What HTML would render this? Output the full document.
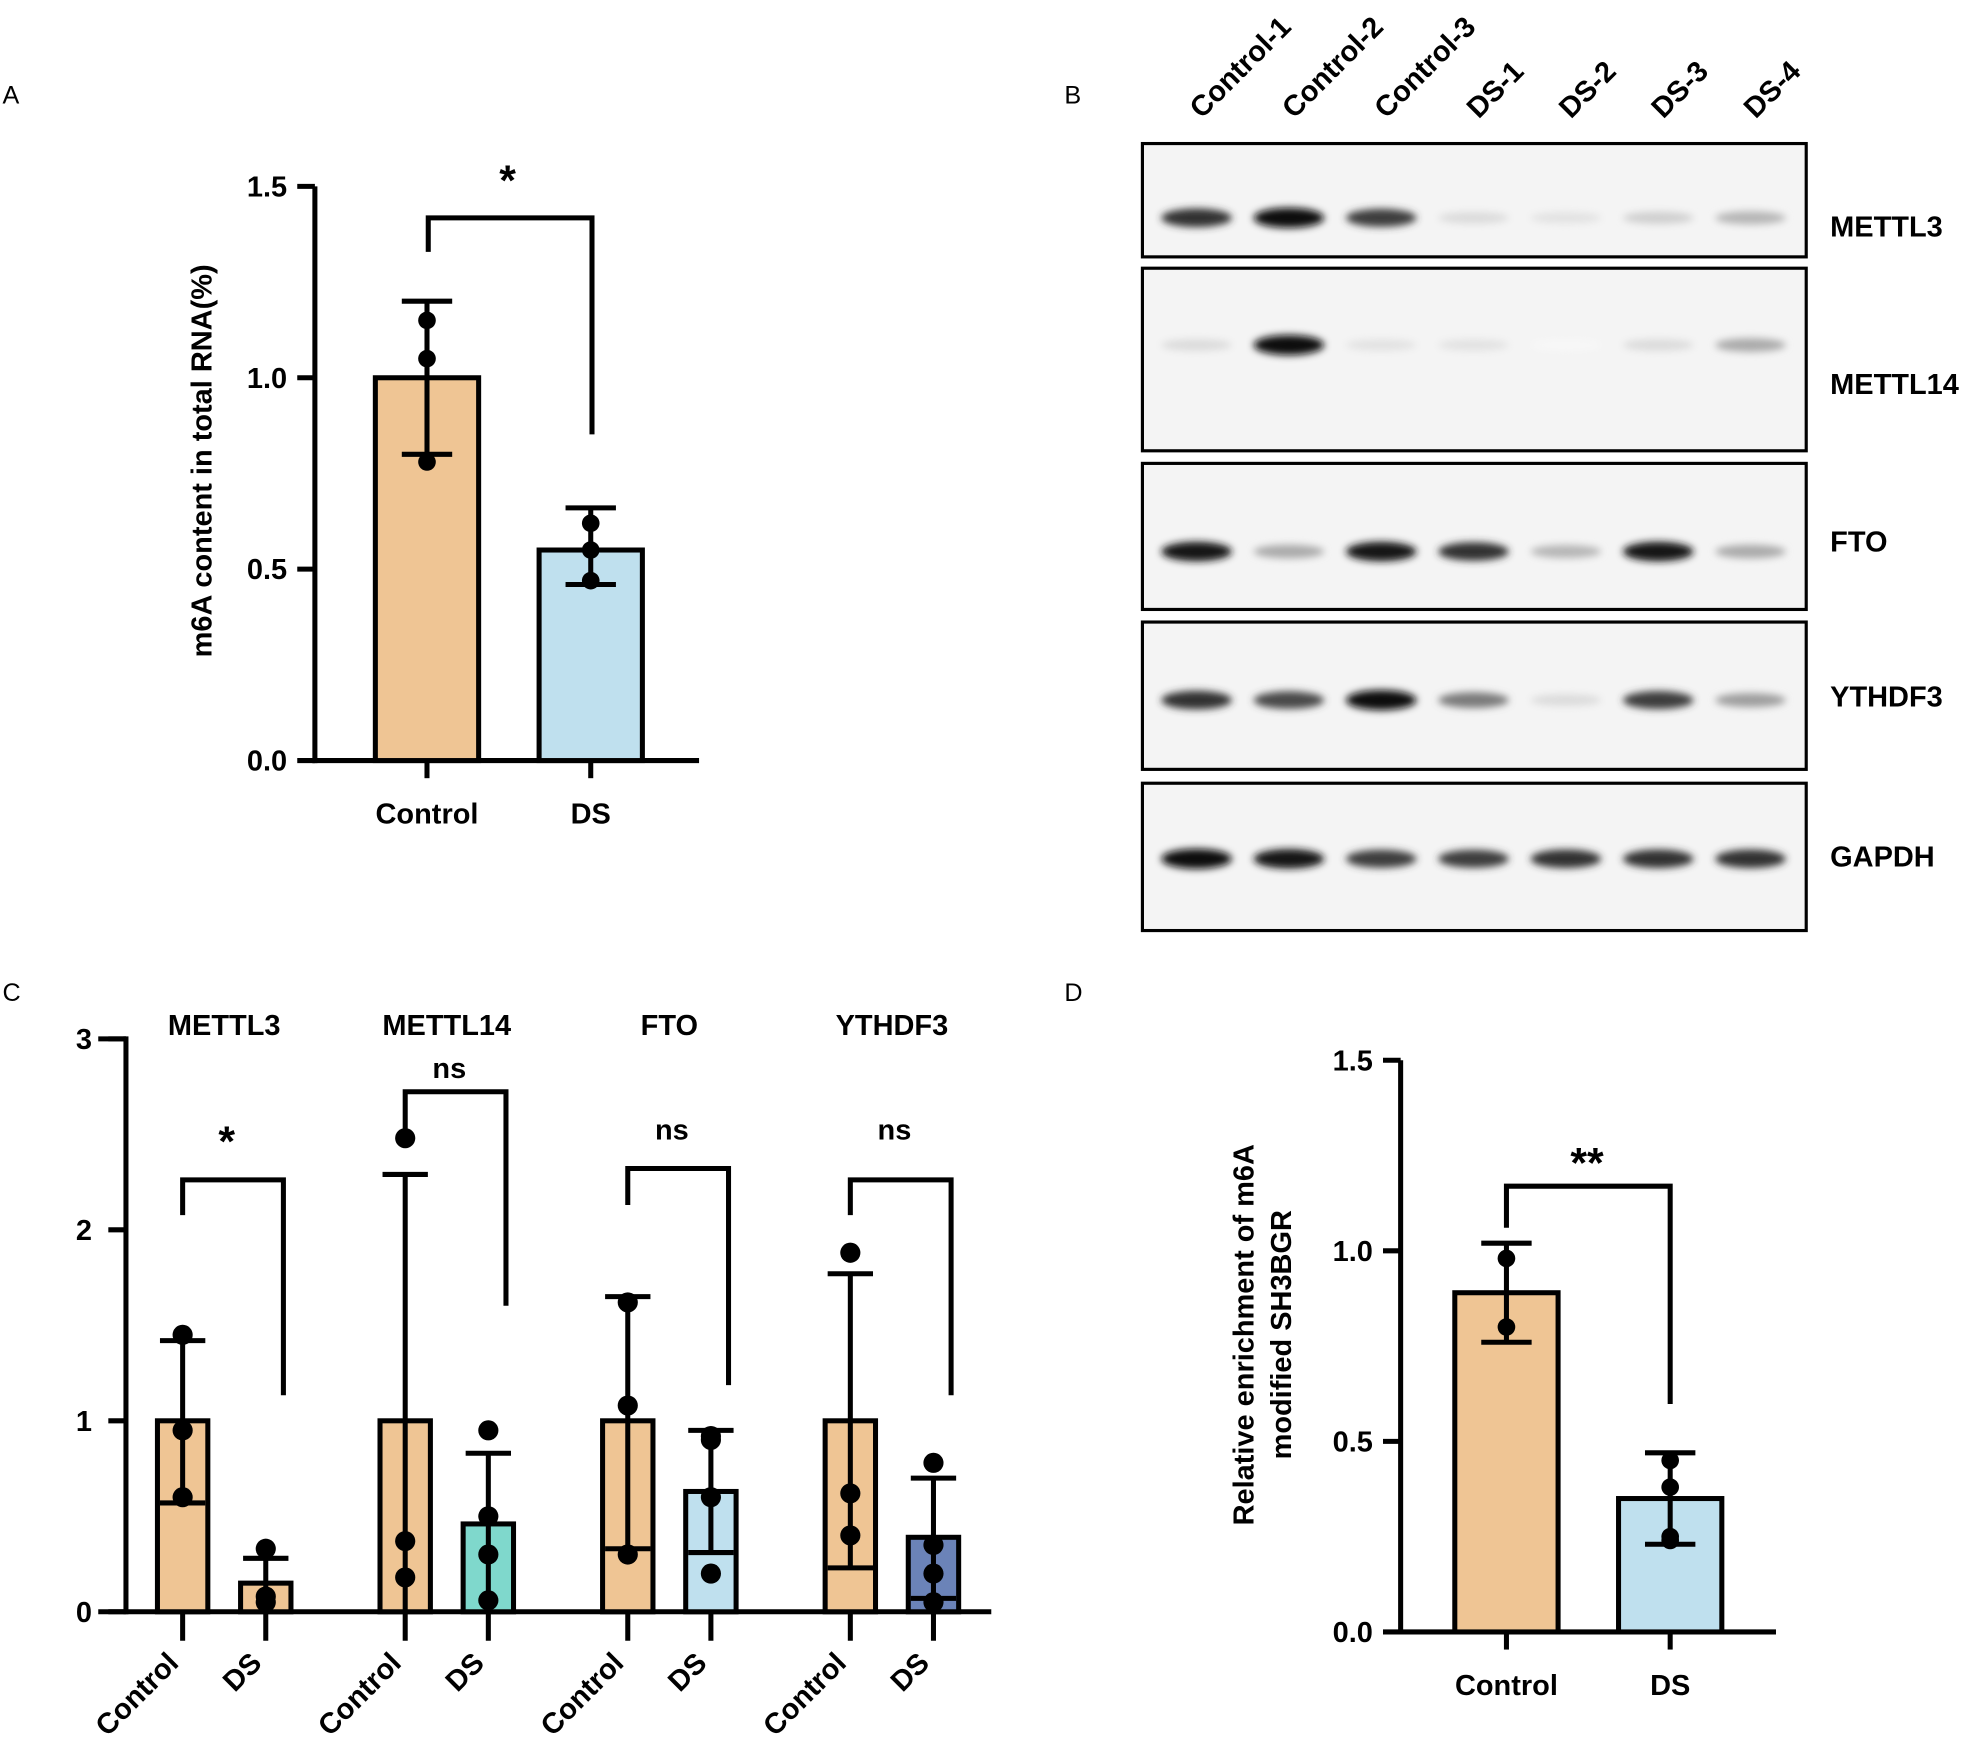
<!DOCTYPE html>
<html><head><meta charset="utf-8"><style>
html,body{margin:0;padding:0;background:#fff}
svg{display:block;font-family:"Liberation Sans",Arial,sans-serif}
.t{font-weight:bold;font-size:23px}
</style></head><body>
<svg id="fig" width="1975" height="1744" viewBox="0 0 1568 1385" preserveAspectRatio="none">
<defs><filter id="bl" x="-50%" y="-200%" width="200%" height="500%"><feGaussianBlur stdDeviation="3"/></filter></defs>
<text x="2" y="82" font-size="20">A</text>
<text x="845" y="82" font-size="20">B</text>
<text x="2" y="795" font-size="20">C</text>
<text x="845" y="795" font-size="20">D</text>
<g id="A"></g>
<g id="B"></g>
<g id="C"></g>
<g id="D"></g>
</svg>
<script>
// Panel A data
const aCats=["Control","DS"];
const aMeans=[1.0,0.55];
const aErrLo=[0.8,0.46];
const aErrHi=[1.2,0.66];
const aPoints=[[1.15,1.05,0.78],[0.62,0.55,0.47]];
const aTicks=[0,0.5,1.0,1.5];
// Panel C data
const cGroups=["METTL3","METTL14","FTO","YTHDF3"];
const cCtrl=[1.0,1.0,1.0,1.0];
const cDS=[0.15,0.46,0.63,0.39];
const cCtrlLo=[0.57,0,0.33,0.23];
const cCtrlHi=[1.42,2.29,1.65,1.77];
const cDSLo=[0,0,0.31,0.07];
const cDSHi=[0.28,0.83,0.95,0.70];
const cCtrlPts=[[1.45,0.95,0.6],[2.48,0.37,0.18],[1.08,1.62,0.3],[1.88,0.62,0.4]];
const cDSPts=[[0.33,0.08,0.05],[0.95,0.5,0.3,0.06],[0.9,0.92,0.6,0.2],[0.78,0.2,0.35,0.05]];
const cSig=["*","ns","ns","ns"];
const cTicks=[0,1,2,3];
// Panel D data
const dCats=["Control","DS"];
const dMeans=[0.89,0.35];
const dErrLo=[0.76,0.23];
const dErrHi=[1.02,0.47];
const dPoints=[[0.98,0.80],[0.45,0.38,0.25,0.24]];
const dTicks=[0,0.5,1.0,1.5];
// Panel B data
const lanes=["Control-1","Control-2","Control-3","DS-1","DS-2","DS-3","DS-4"];
const proteins=["METTL3","METTL14","FTO","YTHDF3","GAPDH"];
const bandMETTL3=[0.85,1.0,0.8,0.15,0.12,0.2,0.3];
const bandMETTL14=[0.15,1.0,0.12,0.12,0.03,0.15,0.35];
const bandFTO=[0.95,0.35,0.95,0.85,0.3,0.95,0.35];
const bandYTHDF3=[0.85,0.75,1.0,0.55,0.15,0.8,0.4];
const bandGAPDH=[1.0,0.95,0.8,0.8,0.85,0.85,0.85];

const NS="http://www.w3.org/2000/svg";
function mk(p,tag,at,name,txt){const e=document.createElementNS(NS,tag);for(const k in at)e.setAttribute(k,at[k]);


if(txt!==undefined)e.textContent=txt;p.appendChild(e);return e;}
function line(p,x1,y1,x2,y2,name,w){return mk(p,'line',{x1,y1,x2,y2,stroke:'#000','stroke-width':w||4},name);}

function barPanel(g,o){
  const y=v=>o.y0-(v-0)*(o.y0-o.yTop)/o.vmax;
  line(g,o.ax,o.yTop,o.ax,o.y0+2,'y-axis');
  line(g,o.ax-2,o.y0,o.xEnd,o.y0,'x-axis');
  o.ticks.forEach(t=>{line(g,o.ax-14,y(t),o.ax,y(t),'y-tick');
    mk(g,'text',{x:o.ax-22,y:y(t)+8,'text-anchor':'end',class:'t'},'y-tick-label',t.toFixed(1));});
  o.cats.forEach((c,i)=>{const cx=o.cx[i];
    mk(g,'rect',{x:cx-o.bw/2,y:y(o.means[i]),width:o.bw,height:o.y0-y(o.means[i]),fill:o.colors[i],stroke:'#000','stroke-width':4},'bar-'+c.toLowerCase());
    line(g,cx,y(o.lo[i]),cx,y(o.hi[i]),'error-bar');
    line(g,cx-20,y(o.hi[i]),cx+20,y(o.hi[i]),'error-cap-high');
    line(g,cx-20,y(o.lo[i]),cx+20,y(o.lo[i]),'error-cap-low');
    o.pts[i].forEach(v=>mk(g,'circle',{cx:cx,cy:y(v),r:7,fill:'#000'},'data-point'));
    line(g,cx,o.y0,cx,o.y0+14,'x-tick');
    mk(g,'text',{x:cx,y:o.y0+50,'text-anchor':'middle',class:'t'},'x-tick-label',c);
  });
  return y;
}
// A
const gA=document.getElementById('A');
barPanel(gA,{ax:250,y0:604,yTop:148,vmax:1.5,xEnd:555,ticks:aTicks,cats:aCats,cx:[339,469],bw:82,means:aMeans,lo:aErrLo,hi:aErrHi,pts:aPoints,colors:['#efc594','#bfe0ee']});
mk(gA,'path',{d:'M340 200 V173 H470 V345',fill:'none',stroke:'#000','stroke-width':4},'significance-bracket');
mk(gA,'text',{x:403,y:155,'text-anchor':'middle','font-size':34,'font-weight':'bold'},'significance-star','*');
mk(gA,'text',{x:168,y:366,'text-anchor':'middle',class:'t',transform:'rotate(-90 168 366)'},'y-axis-title','m6A content in total RNA(%)');
// D
const gD=document.getElementById('D');
barPanel(gD,{ax:1112,y0:1296,yTop:842,vmax:1.5,xEnd:1410,ticks:dTicks,cats:dCats,cx:[1196,1326],bw:82,means:dMeans,lo:dErrLo,hi:dErrHi,pts:dPoints,colors:['#efc594','#bfe0ee']});
mk(gD,'path',{d:'M1196 975 V942 H1326 V1115',fill:'none',stroke:'#000','stroke-width':4},'significance-bracket');
mk(gD,'text',{x:1260,y:935,'text-anchor':'middle','font-size':34,'font-weight':'bold'},'significance-stars','**');
mk(gD,'text',{x:995,y:1060,'text-anchor':'middle',class:'t',transform:'rotate(-90 995 1060)'},'y-axis-title','Relative enrichment of m6A');
mk(gD,'text',{x:1025,y:1060,'text-anchor':'middle',class:'t',transform:'rotate(-90 1025 1060)'},'y-axis-title-line2','modified SH3BGR');
// C
const gC=document.getElementById('C');
const yC=v=>1280-v*(1280-825)/3;
line(gC,100,823,100,1282,'y-axis');line(gC,78,1280,787,1280,'x-axis');
line(gC,78,825,100,825,'y-tick-top');
cTicks.forEach(t=>{line(gC,86,yC(t),100,yC(t),'y-tick');mk(gC,'text',{x:73,y:yC(t)+8,'text-anchor':'end',class:'t'},'y-tick-label',String(t));});
const dsCol=['#efc594','#7fd8cc','#bfe0ee','#6b83b8'];
const bt=[[937,965,1108],[867,900,1037],[928,957,1100],[937,965,1108]];
const sigY=[918,856,905,905];
cGroups.forEach((gname,i)=>{
  const cc=145+i*176.7, dc=cc+66;
  [[cc,cCtrl[i],cCtrlLo[i],cCtrlHi[i],cCtrlPts[i],'#efc594','Control'],[dc,cDS[i],cDSLo[i],cDSHi[i],cDSPts[i],dsCol[i],'DS']].forEach(b=>{
    const [x,m,lo,hi,pts,col,lab]=b;
    mk(gC,'rect',{x:x-20,y:yC(m),width:40,height:1280-yC(m),fill:col,stroke:'#000','stroke-width':4},'bar-'+gname.toLowerCase()+'-'+lab.toLowerCase());
    line(gC,x,yC(lo),x,yC(hi),'error-bar');line(gC,x-18,yC(hi),x+18,yC(hi),'error-cap');
    if(lo>0)line(gC,x-18,yC(lo),x+18,yC(lo),'error-cap');
    pts.forEach(v=>mk(gC,'circle',{cx:x,cy:yC(v),r:8,fill:'#000'},'data-point'));
    line(gC,x,1280,x,1303,'x-tick');
    mk(gC,'text',{x:x-2,y:1322,'text-anchor':'end',class:'t',transform:`rotate(-45 ${x-2} 1322)`},'x-tick-label',lab);
  });
  const [t,l,r]=bt[i];
  mk(gC,'path',{d:`M${cc} ${l} V${t} H${dc+14} V${r}`,fill:'none',stroke:'#000','stroke-width':4},'significance-bracket');
  const s=cSig[i];
  mk(gC,'text',{x:(cc+dc)/2+2,y:sigY[i],'text-anchor':'middle','font-size':s==='*'?34:23,'font-weight':'bold'},'significance-label',s);
  mk(gC,'text',{x:(cc+dc)/2,y:822,'text-anchor':'middle',class:'t'},'group-title',gname);
});
// B
const gB=document.getElementById('B');
const boxes=[[114,204],[213,358],[368,484],[494,611],[622,739]];
const bands=[bandMETTL3,bandMETTL14,bandFTO,bandYTHDF3,bandGAPDH];
const bandY=[173,274,438,556,682];
const labelY=[180,305,430,553,680];
const laneX=i=>950+i*73.3;
lanes.forEach((l,i)=>{const x=laneX(i)+4,y=95;
  mk(gB,'text',{x:x,y:y,class:'t',transform:`rotate(-45 ${x} ${y})`},'lane-label',l);});
proteins.forEach((p,j)=>{const [t,b]=boxes[j];
  mk(gB,'rect',{x:907,y:t,width:527,height:b-t,fill:'#f4f4f4',stroke:'#000','stroke-width':2.5},'blot-'+p.toLowerCase());
  bands[j].forEach((v,i)=>{
    const g=Math.round(255*(1-v*0.95));
    mk(gB,'ellipse',{cx:laneX(i),cy:bandY[j],rx:28,ry:4+v*4,fill:`rgb(${g},${g},${g})`,filter:'url(#bl)'},'band');
  });
  mk(gB,'text',{x:1453,y:labelY[j]+8,class:'t'},'protein-label',p);
});
</script>
</body></html>
